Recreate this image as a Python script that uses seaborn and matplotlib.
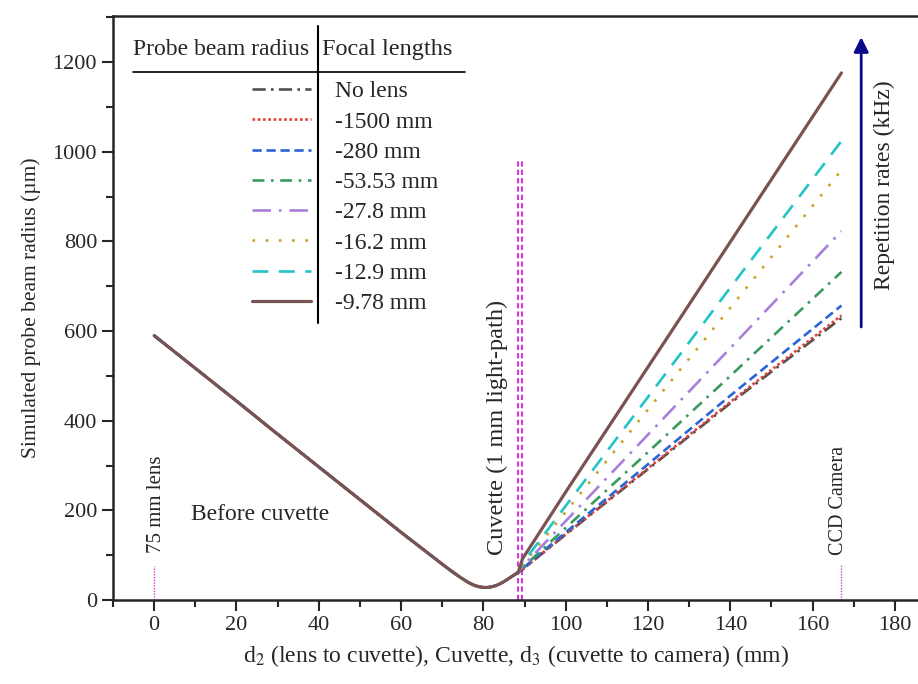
import pandas as pd
import matplotlib.pyplot as plt
import seaborn as sns
from matplotlib.lines import Line2D

# shared path: 75 mm lens -> cuvette
x_before = [0, 10, 20, 30, 40, 50, 60, 70, 72, 74, 76, 77, 78, 79, 80, 80.5, 81, 82, 83, 84, 85, 86, 87, 88.5]
y_before = [590, 517, 444, 370, 297, 224, 151, 80, 66, 53, 41, 36, 32, 29.5, 28.2, 28, 28.2, 29.5, 32, 36, 41, 47, 53, 62]

# after cuvette -> camera
x_after = [89.5, 100, 120, 140, 167]
labels = ['No lens', '-1500 mm', '-280 mm', '-53.53 mm', '-27.8 mm', '-16.2 mm', '-12.9 mm', '-9.78 mm']
no_lens = [68, 146, 292, 439, 629]
f_1500 = [68, 147, 294, 442, 635]
f_280 = [70, 151, 303, 456, 657]
f_5353 = [72, 161, 330, 500, 732]
f_278 = [75, 176, 369, 562, 823]
f_162 = [78, 197, 425, 652, 959]
f_129 = [82, 210, 453, 697, 1024]
f_978 = [92, 241, 520, 799, 1176]
after = [no_lens, f_1500, f_280, f_5353, f_278, f_162, f_129, f_978]

cuvette_x = [88.5, 89.5]
lens_x = 0
camera_x = 167

colors = ['#505050', '#e0413a', '#2a64d6', '#3a9a5e', '#a97fdc', '#c9a227', '#22c4c8', '#7a5252']
styles = [(0, (5, 2, 1, 2)), (0, (1, 1)), (0, (3.5, 1.8)), (0, (4.5, 2.5, 1, 2.5)),
          (0, (7, 3, 1, 3)), (0, (1, 4)), (0, (6, 4)), '-']
widths = [1.9, 1.9, 1.9, 1.9, 1.9, 1.9, 1.9, 2.3]

sns.set_style('ticks')
plt.rcParams['font.family'] = ['Liberation Serif', 'DejaVu Serif']
plt.rcParams['mathtext.fontset'] = 'stix'
fs = 17

fig = plt.figure(figsize=(9.18, 6.84), dpi=100)
ax = fig.add_axes([113 / 918, 84 / 684, 805 / 918, 584 / 684])

for i in range(len(labels)):
    df = pd.DataFrame({'x': x_before + x_after, 'y': y_before + after[i]})
    sns.lineplot(data=df, x='x', y='y', color=colors[i], linestyle=styles[i],
                 linewidth=widths[i], ax=ax, sort=False, zorder=3 + i)

# cuvette and component markers
for cx in cuvette_x:
    ax.plot([cx, cx], [0, 985], color='#d83ad8', lw=1.5, ls=(0, (2.5, 1.5)), zorder=2)
ax.plot([lens_x, lens_x], [0, 75], color='#d83ad8', lw=1.0, ls=(0, (1, 1)))
ax.plot([camera_x, camera_x], [0, 78], color='#d83ad8', lw=1.0, ls=(0, (1, 1)))

ax.text(lens_x + 0.5, 105, '75 mm lens', rotation=90, ha='center', va='bottom', fontsize=15)
ax.text(9, 190, 'Before cuvette', ha='left', va='center', fontsize=fs)
ax.text(83.5, 100, 'Cuvette (1 mm light-path)', rotation=90, ha='center', va='bottom', fontsize=17.5)
ax.text(166.2, 100, 'CCD Camera', rotation=90, ha='center', va='bottom', fontsize=14.5)
ax.text(177.5, 926, 'Repetition rates (kHz)', rotation=90, ha='center', va='center', fontsize=fs)
ax.annotate('', xy=(171.8, 1262), xytext=(171.8, 603),
            arrowprops=dict(arrowstyle='-|>', color='#0a0a8a', lw=2, mutation_scale=22))

# legend table
handles = [Line2D([], [], color=colors[i], ls=styles[i], lw=widths[i]) for i in range(len(labels))]
leg = ax.legend(handles, labels, loc='upper left', bbox_to_anchor=(0.1727, 0.889),
                frameon=False, fontsize=fs, handlelength=2.5, handletextpad=1.0,
                labelspacing=0.37, borderpad=0, borderaxespad=0)
ax.text(0.0248, 0.9418, 'Probe beam radius', transform=ax.transAxes, ha='left', va='center', fontsize=17)
ax.text(0.2596, 0.9418, 'Focal lengths', transform=ax.transAxes, ha='left', va='center', fontsize=17.5)
ax.plot([0.0248, 0.437], [0.904, 0.904], transform=ax.transAxes, color='black', lw=1.2)
ax.plot([0.2547, 0.2547], [0.474, 0.983], transform=ax.transAxes, color='black', lw=1.5)

ax.set_xlim(-9.7, 185.6)
ax.set_ylim(0, 1303)
ax.set_xticks(range(0, 181, 20))
ax.set_xticks(range(-10, 186, 10), minor=True)
ax.set_yticks(range(0, 1201, 200))
ax.set_yticks(range(0, 1301, 100), minor=True)
ax.tick_params(which='major', direction='out', length=8, width=1.5, labelsize=16)
ax.tick_params(which='minor', direction='out', length=5, width=1.5)
ax.set_xlabel(r'd$_2$ (lens to cuvette), Cuvette, d$_3$ (cuvette to camera) (mm)', fontsize=fs, labelpad=6)
ax.set_ylabel('Simulated probe beam radius (µm)', fontsize=15.5, labelpad=8)
for s in ['left', 'bottom', 'top']:
    ax.spines[s].set_linewidth(1.8)
ax.spines['right'].set_visible(False)

plt.savefig('out.png', dpi=100)
plt.close()
